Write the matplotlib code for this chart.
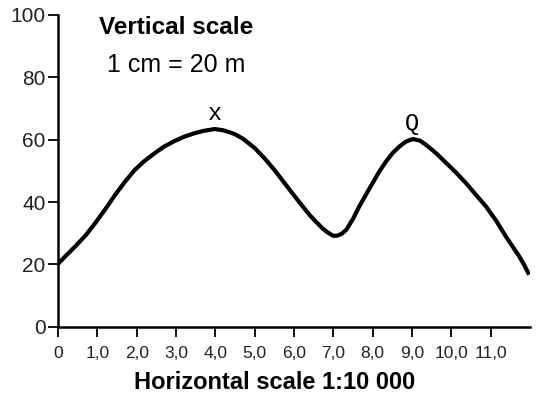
import numpy as np
import matplotlib
matplotlib.use('Agg')
import matplotlib.pyplot as plt

# Profile points (distance, height in m)
dist = [0, 0.2, 0.43, 0.7, 0.94, 1.2, 1.45, 1.7, 1.95, 2.2, 2.46, 2.7, 2.97, 3.2, 3.48, 3.7,
        3.98, 4.2, 4.49, 4.7, 5.0, 5.25, 5.5, 5.75, 6.02, 6.2, 6.4, 6.55, 6.72, 6.85, 6.99,
        7.1, 7.22, 7.33, 7.5, 7.66, 7.83, 8.0, 8.17, 8.34, 8.5, 8.68, 8.85, 9.02, 9.2, 9.36,
        9.6, 9.87, 10.1, 10.37, 10.62, 10.88, 11.13, 11.39, 11.56, 11.73, 11.85, 11.98]
height = [20.2, 22.8, 25.7, 29.3, 33.2, 37.7, 42.3, 46.5, 50.3, 53.2, 55.7, 57.8, 59.6, 60.9, 62.1, 62.8,
          63.4, 63.0, 61.8, 60.3, 57.3, 54.0, 50.3, 46.2, 41.8, 38.9, 35.8, 33.8, 31.6, 30.3, 29.2,
          29.2, 29.9, 31.1, 34.6, 38.6, 42.4, 46.1, 49.8, 53.0, 55.6, 57.8, 59.4, 60.2, 59.7, 58.3,
          55.8, 52.5, 49.7, 46.1, 42.4, 38.6, 34.2, 28.9, 25.7, 22.5, 19.9, 16.7]

xticks = [0, 1, 2, 3, 4, 5, 6, 7, 8, 9, 10, 11]
xticklabels = ['0', '1,0', '2,0', '3,0', '4,0', '5,0', '6,0', '7,0', '8,0', '9,0', '10,0', '11,0']
yticks = [0, 20, 40, 60, 80, 100]

plt.rcParams['font.family'] = ['Liberation Sans', 'DejaVu Sans']

fig = plt.figure(figsize=(5.43, 4.01), dpi=100)
ax = fig.add_axes([0.107, 0.185, 0.869, 0.778])

ax.plot(dist, height, color='black', lw=3, solid_capstyle='butt', solid_joinstyle='round')

ax.set_xlim(0, 12)
ax.set_ylim(0, 100)
ax.spines['top'].set_visible(False)
ax.spines['right'].set_visible(False)
ax.spines['left'].set_linewidth(1.8)
ax.spines['bottom'].set_linewidth(1.8)
ax.set_xticks(xticks)
ax.set_xticklabels(xticklabels, fontsize=12.5, color='#222222')
ax.set_yticks(yticks)
ax.set_yticklabels([str(v) for v in yticks], fontsize=15, color='#222222')
ax.tick_params(axis='both', length=7, width=1.3, pad=2)
ax.tick_params(axis='x', pad=7)

ax.text(4.0, 64.8, 'x', ha='center', va='bottom', fontsize=17, family='Liberation Mono')
ax.text(9.0, 61.5, 'Q', ha='center', va='bottom', fontsize=17, family='Liberation Mono')

ax.text(3.0, 96, 'Vertical scale', ha='center', va='center', fontsize=17.5, fontweight='bold')
ax.text(3.0, 84, '1 cm = 20 m', ha='center', va='center', fontsize=18)

fig.text(0.505, 0.045, 'Horizontal scale 1:10 000', ha='center', va='center', fontsize=17, fontweight='bold')

fig.savefig('out.png', dpi=100)
